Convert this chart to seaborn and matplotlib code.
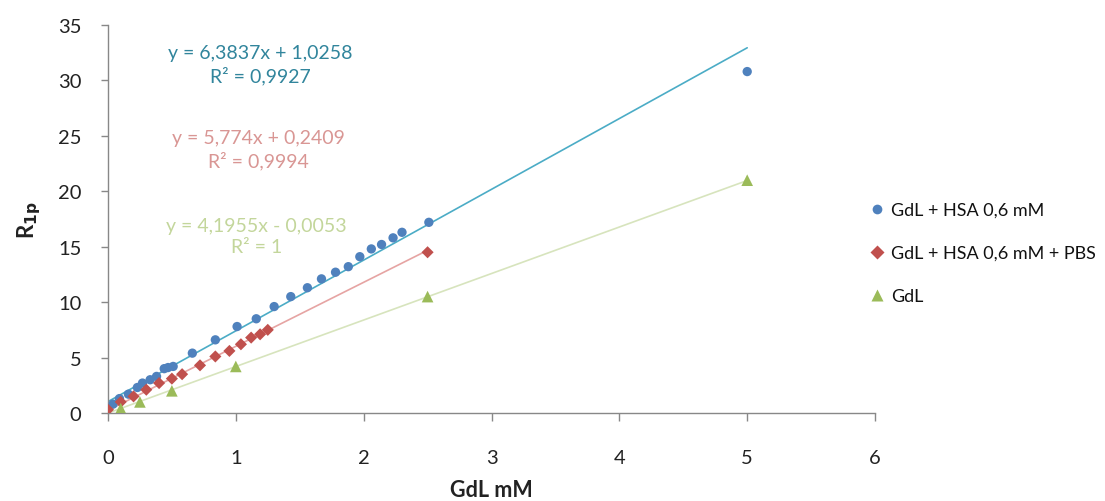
import numpy as np
import pandas as pd
import matplotlib
matplotlib.use("Agg")
import matplotlib.pyplot as plt
import seaborn as sns
from matplotlib.lines import Line2D

# ---- data ----
series_names = ["GdL + HSA 0,6 mM", "GdL + HSA 0,6 mM + PBS", "GdL"]

hsa_x = [0.04, 0.09, 0.16, 0.23, 0.27, 0.33, 0.38, 0.44, 0.47, 0.51, 0.66, 0.84,
         1.01, 1.16, 1.30, 1.43, 1.56, 1.67, 1.78, 1.88, 1.97, 2.06, 2.14, 2.23,
         2.30, 2.51, 5.0]
hsa_y = [0.8, 1.3, 1.7, 2.3, 2.7, 3.0, 3.3, 4.0, 4.1, 4.2, 5.4, 6.6,
         7.8, 8.5, 9.6, 10.5, 11.3, 12.1, 12.7, 13.2, 14.1, 14.8, 15.2, 15.8,
         16.3, 17.2, 30.8]

pbs_x = [0.0, 0.1, 0.2, 0.3, 0.4, 0.5, 0.58, 0.72, 0.84, 0.95, 1.04, 1.12, 1.19, 1.25, 2.5]
pbs_y = [0.3, 1.0, 1.5, 2.1, 2.7, 3.1, 3.5, 4.3, 5.1, 5.6, 6.2, 6.8, 7.1, 7.5, 14.5]

gdl_x = [0.1, 0.25, 0.5, 1.0, 2.5, 5.0]
gdl_y = [0.4, 1.0, 2.0, 4.2, 10.5, 21.0]

# trendline coefficients (as printed on chart)
slopes = [6.3837, 5.774, 4.1955]
intercepts = [1.0258, 0.2409, -0.0053]
trend_xmax = [5.0, 2.5, 5.0]
eq_texts = ["y = 6,3837x + 1,0258\nR² = 0,9927",
            "y = 5,774x + 0,2409\nR² = 0,9994",
            "y = 4,1955x - 0,0053\nR² = 1"]

x_ticks = [0, 1, 2, 3, 4, 5, 6]
y_ticks = [0, 5, 10, 15, 20, 25, 30, 35]

# ---- style ----
marker_colors = ["#4F81BD", "#C0504D", "#9BBB59"]
line_colors = ["#4BACC6", "#E6A4A3", "#D7E4BD"]
text_colors = ["#31859C", "#D99694", "#C3D69B"]
markers = ["o", "D", "^"]
sizes = [45, 38, 70]

sns.set_theme(style="white")
plt.rcParams["font.family"] = ["Lato", "DejaVu Sans"]

df = pd.concat([
    pd.DataFrame({"x": hsa_x, "y": hsa_y, "series": series_names[0]}),
    pd.DataFrame({"x": pbs_x, "y": pbs_y, "series": series_names[1]}),
    pd.DataFrame({"x": gdl_x, "y": gdl_y, "series": series_names[2]}),
], ignore_index=True)

fig = plt.figure(figsize=(11.05, 5.02), dpi=100)
ax = fig.add_axes([0.0977, 0.1753, 0.6942, 0.7729])

# trendlines
for i in range(3):
    xs = np.array([0.0, trend_xmax[i]])
    ax.plot(xs, slopes[i] * xs + intercepts[i], color=line_colors[i], lw=1.2, zorder=1)

for i, name in enumerate(series_names):
    sub = df[df["series"] == name]
    sns.scatterplot(data=sub, x="x", y="y", ax=ax, color=marker_colors[i],
                    marker=markers[i], s=sizes[i], edgecolor="none",
                    zorder=3, legend=False)

# equation labels
eq_pos = [(1.19, 31.5), (1.18, 23.76), (1.16, 16.0)]
for i in range(3):
    ax.text(eq_pos[i][0], eq_pos[i][1], eq_texts[i], color=text_colors[i],
            ha="center", va="center", fontsize=14, linespacing=1.3)

ax.set_xlim(0, 6)
ax.set_ylim(0, 35)
ax.set_xticks(x_ticks)
ax.set_yticks(y_ticks)
ax.set_xticklabels([str(v) for v in x_ticks], fontsize=14.5, color="#222222")
ax.set_yticklabels([str(v) for v in y_ticks], fontsize=14.5, color="#222222")
ax.tick_params(axis="x", direction="out", length=6, width=1, color="#888888", pad=20, bottom=True)
ax.tick_params(axis="y", direction="out", length=5, width=1, color="#888888", pad=14, left=True)
for s in ["top", "right"]:
    ax.spines[s].set_visible(False)
for s in ["left", "bottom"]:
    ax.spines[s].set_color("#888888")
    ax.spines[s].set_linewidth(1)

ax.set_xlabel("GdL mM", fontsize=15.5, fontweight="bold", color="#222222", labelpad=9)
ax.set_ylabel(r"R$_{\mathbf{1p}}$", fontsize=16, fontweight="bold", color="#222222", labelpad=11)

# legend
handles = [Line2D([0], [0], marker=markers[i], color="none", markerfacecolor=marker_colors[i],
                  markeredgecolor="none", markersize=[7, 7, 8][i]) for i in range(3)]
fig.legend(handles, series_names, loc="center left", bbox_to_anchor=(0.771, 0.494),
           frameon=False, fontsize=13, handletextpad=0.25, labelspacing=1.5,
           handlelength=1.0, labelcolor="#111111")

fig.savefig("out.png", dpi=100)
